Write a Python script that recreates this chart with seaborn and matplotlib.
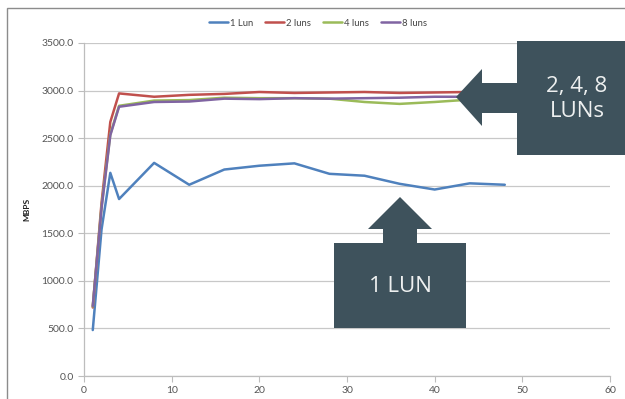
import matplotlib
matplotlib.use("Agg")
import matplotlib.pyplot as plt
from matplotlib.patches import Polygon, Rectangle
import seaborn as sns
import pandas as pd

# Throughput (MBPS) against thread count for each LUN configuration
threads = [1, 2, 3, 4, 8, 12, 16, 20, 24, 28, 32, 36, 40, 44, 48]
lun1 = [483, 1540, 2135, 1860, 2240, 2010, 2170, 2210, 2235, 2125, 2105, 2020, 1960, 2025, 2010]
luns2 = [720, 1820, 2670, 2970, 2935, 2955, 2965, 2985, 2975, 2980, 2985, 2975, 2980, 2985, 2985]
luns4 = [730, 1780, 2540, 2840, 2895, 2900, 2925, 2920, 2920, 2915, 2880, 2860, 2880, 2905, 2910]
luns8 = [735, 1760, 2530, 2830, 2880, 2885, 2915, 2910, 2920, 2915, 2920, 2925, 2935, 2935, 2935]
series_names = ["1 Lun", "2 luns", "4 luns", "8 luns"]
series_colors = ["#4F81BD", "#C0504D", "#9BBB59", "#8064A2"]
y_ticks = [0, 500, 1000, 1500, 2000, 2500, 3000, 3500]
x_ticks = [0, 10, 20, 30, 40, 50, 60]

frames = []
for name, vals in zip(series_names, [lun1, luns2, luns4, luns8]):
    frames.append(pd.DataFrame({"threads": threads, "MBPS": vals, "series": name}))
df = pd.concat(frames, ignore_index=True)

sns.set_theme(style="white")
plt.rcParams["font.family"] = ["Lato", "DejaVu Sans"]

W, H = 625, 399
fig = plt.figure(figsize=(W / 100, H / 100), dpi=100)
ax = fig.add_axes([84 / W, 1 - 376 / H, (610 - 84) / W, (376 - 43) / H])


def px(x, y):
    return (x / W, 1 - y / H)


# outer chart frame
fig.patches.append(Rectangle(px(7, 420), (640 - 7) / W, (420 - 8) / H,
                             transform=fig.transFigure, fill=False,
                             edgecolor="#8c8c8c", linewidth=1.0, zorder=0))

sns.lineplot(data=df, x="threads", y="MBPS", hue="series",
             palette=dict(zip(series_names, series_colors)),
             linewidth=1.8, ax=ax, legend=True, zorder=3)

ax.set_xlim(0, 60)
ax.set_ylim(0, 3500)
ax.set_xticks(x_ticks)
ax.set_yticks(y_ticks)
ax.set_yticklabels([f"{v:.1f}" for v in y_ticks])
ax.yaxis.grid(True, color="#c8c8c8", linewidth=0.9)
ax.xaxis.grid(False)
ax.set_axisbelow(True)
for side in ["top", "right"]:
    ax.spines[side].set_visible(False)
for side in ["left", "bottom"]:
    ax.spines[side].set_color("#bdbdbd")
    ax.spines[side].set_linewidth(0.9)
ax.tick_params(axis="both", which="major", labelsize=7.5, labelcolor="#555555",
               color="#bdbdbd", length=4, width=0.8, direction="out",
               left=True, bottom=True)
ax.set_xlabel("")
ax.set_ylabel("MBPS", fontsize=6, fontweight="bold", color="#222222", labelpad=8)

handles, labels = ax.get_legend_handles_labels()
ax.legend(handles, labels, loc="center", bbox_to_anchor=(0.5 * (213 + 423) / W, 1 - 23 / H),
          bbox_transform=fig.transFigure, ncol=4, frameon=False, fontsize=6.8,
          handlelength=2.0, handletextpad=0.2, columnspacing=1.3)
for t in ax.get_legend().get_texts():
    t.set_color("#444444")

box_color = "#3E525C"

# left-pointing callout for the multi-LUN lines
right_arrow = [(456, 97), (482, 69), (482, 83), (517, 83), (517, 41), (640, 41),
               (640, 155), (517, 155), (517, 113), (482, 113), (482, 126)]
fig.patches.append(Polygon([px(*p) for p in right_arrow], closed=True,
                           transform=fig.transFigure, facecolor=box_color,
                           edgecolor="none", zorder=5))
fig.text(*px(577, 99), "2, 4, 8\nLUNs", ha="center", va="center", color="#eef0f0",
         fontsize=16, family=["Open Sans", "DejaVu Sans"], linespacing=1.25, zorder=6)

# upward callout for the single-LUN line
up_arrow = [(400, 197), (432, 229), (417, 229), (417, 243), (466, 243), (466, 328),
            (334, 328), (334, 243), (383, 243), (383, 229), (368, 229)]
fig.patches.append(Polygon([px(*p) for p in up_arrow], closed=True,
                           transform=fig.transFigure, facecolor=box_color,
                           edgecolor="none", zorder=5))
fig.text(*px(400, 286), "1 LUN", ha="center", va="center", color="#eef0f0",
         fontsize=16, family=["Open Sans", "DejaVu Sans"], zorder=6)

fig.savefig("out.png", dpi=100)
